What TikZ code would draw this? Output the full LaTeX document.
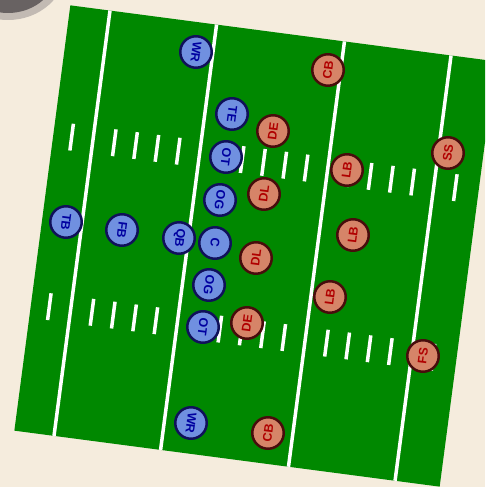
\documentclass[tikz,border=0pt]{standalone}
\usepackage{fontspec}
\setsansfont{Liberation Sans}
\definecolor{bgbeige}{RGB}{245,236,221}
\definecolor{fieldgreen}{RGB}{0,136,0}
\definecolor{offfill}{RGB}{112,144,224}
\definecolor{offline}{RGB}{16,16,90}
\definecolor{offtext}{RGB}{0,0,160}
\definecolor{deffill}{RGB}{214,132,104}
\definecolor{defline}{RGB}{72,12,12}
\definecolor{deftext}{RGB}{176,0,0}
\definecolor{blobdark}{RGB}{104,98,98}
\definecolor{bloblight}{RGB}{160,154,152}
\begin{document}
\begin{tikzpicture}[x=1pt,y=1pt,
  yardline/.style={white,line width=3.5pt},
  hashmark/.style={white,line width=3.5pt},
  player/.style={circle,line width=2.5pt,minimum size=31.5pt,inner sep=0pt,
    font=\sffamily\bfseries\fontsize{12.5}{12.5}\selectfont},
  offp/.style={player,draw=offline,fill=offfill,text=offtext,rotate=-97.5},
  defp/.style={player,draw=defline,fill=deffill,text=deftext,rotate=82.5}]
\useasboundingbox (0,0) rectangle (485,487);
\clip (0,0) rectangle (485,487);
\fill[bgbeige] (0,0) rectangle (485,487);
% shadow blob in the corner
\fill[bloblight,opacity=0.6] (8,519) ellipse [x radius=58, y radius=52];
\fill[blobdark] (8,519) ellipse [x radius=50, y radius=45];
% field
\begin{scope}[shift={(255,241)},rotate=-7.5]
  \fill[fieldgreen] (-214.5,-214.5) rectangle (214.5,214.5);
  \foreach \u in {-174.5,-67,62,169.5}
    \draw[yardline] (\u,-214.5) -- (\u,214.5);
  \foreach \k in {-1,1,2,3,4,6,7,8,9,10,12,13,14,15,17}{
    \pgfmathsetmacro\hu{-174.5+21.5*\k}
    \draw[hashmark] (\hu,70.5) -- ++(0,27);
    \draw[hashmark] (\hu,-100.5) -- ++(0,27);
  }
\end{scope}
% offense
\node[offp] (wr1) at (196,435) {WR};
\node[offp] (te)  at (232,373) {TE};
\node[offp] (ot1) at (226,330) {OT};
\node[offp] (og1) at (220,287) {OG};
\node[offp] (c)   at (215,244) {C};
\node[offp] (qb)  at (179,249) {QB};
\node[offp] (og2) at (209,202) {OG};
\node[offp] (ot2) at (203,160) {OT};
\node[offp] (tb)  at (66,265) {TB};
\node[offp] (fb)  at (122,257) {FB};
\node[offp] (wr2) at (191,64) {WR};
% defense
\node[defp] (cb1) at (328,417) {CB};
\node[defp] (de1) at (273,356) {DE};
\node[defp] (dl1) at (264,293) {DL};
\node[defp] (dl2) at (256,229) {DL};
\node[defp] (de2) at (247,164) {DE};
\node[defp] (lb1) at (347,317) {LB};
\node[defp] (lb2) at (353,252) {LB};
\node[defp] (lb3) at (330,190) {LB};
\node[defp] (ss)  at (448,334) {SS};
\node[defp] (fs)  at (423,131) {FS};
\node[defp] (cb2) at (268,54) {CB};
\end{tikzpicture}
\end{document}
